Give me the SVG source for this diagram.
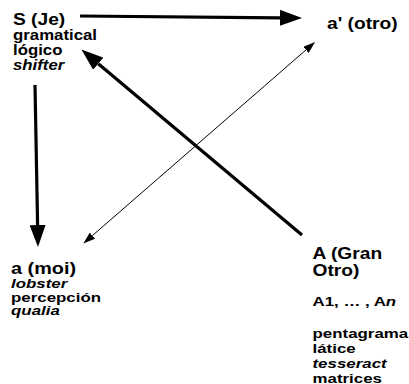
<svg xmlns="http://www.w3.org/2000/svg" width="409" height="384" viewBox="0 0 409 384">
<defs>
<style>
text{font-family:"Liberation Sans",Arial,sans-serif;font-weight:bold;fill:#000}
.t{font-size:16px}
.s{font-size:14px}
.m{font-size:12.5px}
.n{font-size:13px}
.i{font-style:italic}
.thick{stroke:#000;stroke-width:3.2;fill:none}
.thin{stroke:#000;stroke-width:1;fill:none}
</style>
<marker id="big" markerUnits="userSpaceOnUse" viewBox="0 0 22 16" refX="0" refY="8" markerWidth="22" markerHeight="16" orient="auto">
<path d="M0,0 L22,8 L0,16 z" fill="#000"/>
</marker>
<marker id="small" markerUnits="userSpaceOnUse" viewBox="0 0 12 8" refX="0" refY="4" markerWidth="12" markerHeight="8" orient="auto-start-reverse">
<path d="M0,0 L12,4 L0,8 z" fill="#000"/>
</marker>
</defs>
<rect width="409" height="384" fill="#fff"/>
<g id="connectors">
<line class="thick" x1="80" y1="16" x2="280" y2="17.8" marker-end="url(#big)"/>
<line class="thick" x1="35" y1="85" x2="37.6" y2="225" marker-end="url(#big)"/>
<line class="thick" x1="302" y1="235" x2="98.3" y2="63.7" marker-end="url(#big)"/>
<line class="thin" x1="92.4" y1="235.6" x2="306" y2="49.9" marker-start="url(#small)" marker-end="url(#small)"/>
</g>
<g id="node-S" transform="translate(13,0) scale(1.2,1)">
<text class="t" x="0" y="25">S (Je)</text>
<text class="s" x="0" y="40.5">gramatical</text>
<text class="s" x="0" y="55">lógico</text>
<text class="s i" x="0" y="70">shifter</text>
</g>
<g id="node-aprime" transform="translate(327,0) scale(1.2,1)">
<text class="t" x="0" y="29">a' (otro)</text>
</g>
<g id="node-a" transform="translate(11,0)">
<text class="t" x="0" y="274.5" transform="scale(1.24,1)">a (moi)</text>
<g transform="scale(1.3,1)">
<text class="n i" x="0" y="288.5">lobster</text>
<text class="n" x="0" y="302">percepción</text>
<text class="n i" x="0" y="315.5">qualia</text>
</g>
</g>
<g id="node-A" transform="translate(312.5,0)">
<g transform="scale(1.2,1)">
<text class="t" x="0" y="259">A (Gran</text>
<text class="t" x="0" y="276">Otro)</text>
</g>
<text class="m" x="0" y="306.5" transform="scale(1.35,1)">A1, … , A<tspan class="i">n</tspan></text>
<g transform="scale(1.3,1)">
<text class="n" x="0" y="338">pentagrama</text>
<text class="n" x="0" y="353">látice</text>
<text class="n i" x="0" y="368">tesseract</text>
<text class="n" x="0" y="383">matrices</text>
</g>
</g>
</svg>
